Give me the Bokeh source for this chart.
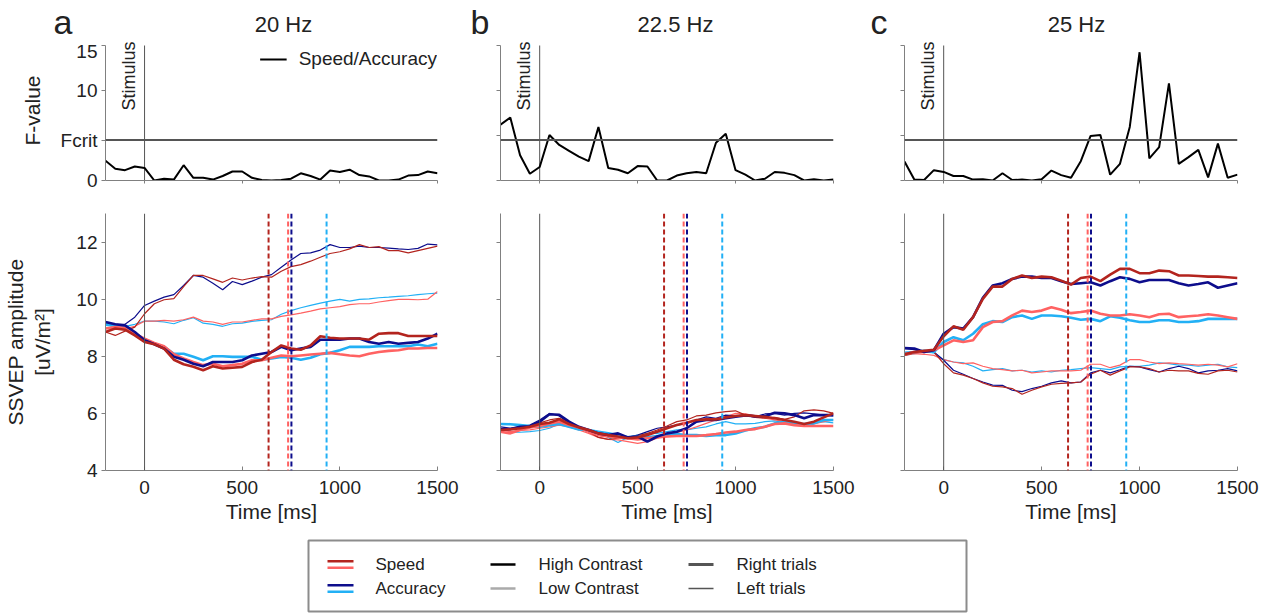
import math
from bokeh.plotting import figure
from bokeh.models import Range1d, Span, Label, FixedTicker, Legend, LegendItem, Spacer
from bokeh.core.properties import value
from bokeh.layouts import column, row
from bokeh.embed import file_html
from bokeh.resources import INLINE

# ---------------- data ----------------
time_ms = [-200, -150, -100, -50, 0, 50, 100, 150, 200, 250, 300, 350, 400, 450, 500,
           550, 600, 650, 700, 750, 800, 850, 900, 950, 1000, 1050, 1100, 1150, 1200,
           1250, 1300, 1350, 1400, 1450, 1500]

panel_letters = ["a", "b", "c"]
panel_titles = ["20 Hz", "22.5 Hz", "25 Hz"]
f_crit = 4.5
stimulus_ms = 0

f_20 = [2.2, 1.3, 1.15, 1.55, 1.4, 0.0, 0.2, 0.1, 1.7, 0.3, 0.3, 0.1, 0.5, 1.0, 1.0, 0.3, 0.05,
        0.0, 0.05, 0.2, 0.8, 0.5, 0.1, 1.1, 0.95, 1.2, 0.6, 0.45, 0.0, 0.0, 0.1, 0.55, 0.6, 1.0, 0.8]
f_22_5 = [6.2, 7.0, 2.8, 0.75, 1.5, 5.05, 3.95, 3.3, 2.65, 2.15, 5.95, 1.4, 1.2, 0.8, 1.6, 1.55, 0.0,
          0.0, 0.55, 0.8, 0.95, 0.8, 4.2, 5.2, 1.15, 0.65, 0.0, 0.2, 0.95, 0.85, 0.6, 0.0, 0.15, 0.0, 0.1]
f_25 = [2.1, 0.1, 0.05, 1.15, 0.95, 0.5, 0.5, 0.1, 0.15, 0.0, 0.8, 0.05, 0.1, 0.0, 0.15, 1.1, 0.6,
        0.3, 2.15, 4.95, 5.05, 0.65, 1.85, 5.95, 14.25, 2.45, 3.7, 10.8, 1.85, 2.6, 3.4, 0.35, 4.1, 0.3, 0.65]

# mean reaction times (dashed lines)
rt_speed_hc = 635
rt_speed_lc = 735
rt_acc_hc = 752
rt_acc_lc = 932

# 20 Hz
a20_speed_hc_right = [8.85, 8.97, 8.93, 8.73, 8.50, 8.42, 8.27, 7.88, 7.72, 7.63, 7.51, 7.65, 7.57, 7.60, 7.63, 7.80, 7.88, 8.15, 8.38, 8.27, 8.23, 8.38, 8.70, 8.65, 8.62, 8.62, 8.62, 8.58, 8.79, 8.81, 8.81, 8.71, 8.71, 8.71, 8.71]
a20_speed_hc_left = [8.85, 8.73, 8.88, 9.02, 9.49, 9.84, 9.98, 10.02, 10.44, 10.83, 10.83, 10.71, 10.59, 10.74, 10.67, 10.74, 10.79, 10.77, 10.98, 11.14, 11.21, 11.33, 11.47, 11.60, 11.66, 11.76, 11.91, 11.81, 11.84, 11.70, 11.70, 11.62, 11.70, 11.78, 11.86]
a20_speed_lc_right = [8.97, 9.02, 9.00, 8.79, 8.62, 8.47, 8.35, 8.07, 7.92, 7.80, 7.69, 7.74, 7.65, 7.69, 7.74, 7.86, 7.86, 7.95, 8.03, 8.00, 8.03, 8.06, 8.09, 8.12, 8.07, 8.03, 8.00, 8.09, 8.15, 8.19, 8.21, 8.27, 8.27, 8.29, 8.29]
a20_speed_lc_left = [8.97, 9.02, 8.97, 9.05, 9.23, 9.23, 9.26, 9.23, 9.28, 9.37, 9.23, 9.20, 9.12, 9.20, 9.20, 9.26, 9.31, 9.31, 9.40, 9.45, 9.51, 9.58, 9.66, 9.70, 9.74, 9.81, 9.84, 9.84, 9.90, 9.95, 9.99, 9.99, 9.98, 10.00, 10.27]
a20_acc_hc_right = [9.20, 9.12, 9.08, 8.85, 8.56, 8.42, 8.27, 7.98, 7.88, 7.74, 7.65, 7.80, 7.80, 7.80, 7.86, 8.03, 8.09, 8.15, 8.33, 8.21, 8.27, 8.33, 8.58, 8.58, 8.58, 8.62, 8.62, 8.50, 8.44, 8.50, 8.44, 8.47, 8.50, 8.62, 8.79]
a20_acc_hc_left = [9.20, 9.12, 9.12, 9.37, 9.78, 9.93, 10.07, 10.16, 10.48, 10.83, 10.77, 10.56, 10.33, 10.62, 10.51, 10.63, 10.77, 10.86, 11.12, 11.37, 11.60, 11.62, 11.72, 11.91, 11.81, 11.81, 11.86, 11.81, 11.81, 11.79, 11.76, 11.74, 11.78, 11.93, 11.90]
a20_acc_lc_right = [9.14, 9.05, 9.05, 8.79, 8.56, 8.44, 8.33, 8.09, 8.09, 7.98, 7.86, 8.00, 8.00, 7.98, 7.98, 7.98, 7.88, 7.92, 7.98, 7.95, 7.88, 7.95, 8.07, 8.12, 8.21, 8.33, 8.33, 8.33, 8.35, 8.35, 8.35, 8.35, 8.41, 8.35, 8.44]
a20_acc_lc_left = [9.08, 9.05, 9.05, 9.12, 9.23, 9.23, 9.20, 9.14, 9.26, 9.35, 9.16, 9.12, 9.05, 9.14, 9.16, 9.22, 9.26, 9.28, 9.47, 9.60, 9.70, 9.78, 9.86, 9.93, 9.99, 9.93, 9.99, 10.01, 10.05, 10.07, 10.10, 10.12, 10.16, 10.19, 10.21]

# 22.5 Hz
a22_speed_hc_right = [5.42, 5.44, 5.48, 5.53, 5.63, 5.67, 5.79, 5.63, 5.51, 5.42, 5.30, 5.24, 5.19, 5.13, 5.16, 5.24, 5.36, 5.48, 5.59, 5.67, 5.77, 5.79, 5.79, 5.86, 5.91, 5.94, 5.91, 5.88, 5.83, 5.77, 5.71, 5.63, 5.71, 5.86, 6.00]
a22_speed_hc_left = [5.40, 5.44, 5.51, 5.56, 5.67, 5.77, 5.83, 5.71, 5.53, 5.36, 5.16, 5.09, 5.13, 5.16, 5.21, 5.30, 5.42, 5.56, 5.71, 5.77, 5.91, 5.94, 6.02, 6.06, 6.09, 5.94, 5.86, 5.83, 5.86, 5.79, 5.88, 6.09, 6.12, 6.09, 6.00]
a22_speed_lc_right = [5.36, 5.30, 5.42, 5.51, 5.56, 5.65, 5.71, 5.59, 5.51, 5.36, 5.24, 5.19, 5.16, 5.13, 5.09, 5.13, 5.16, 5.19, 5.21, 5.21, 5.21, 5.24, 5.28, 5.33, 5.36, 5.42, 5.45, 5.53, 5.63, 5.65, 5.59, 5.56, 5.56, 5.56, 5.56]
a22_speed_lc_left = [5.42, 5.36, 5.40, 5.42, 5.48, 5.53, 5.59, 5.53, 5.42, 5.30, 5.16, 5.09, 5.07, 5.01, 4.95, 5.01, 5.13, 5.24, 5.33, 5.42, 5.53, 5.65, 5.77, 5.88, 6.00, 5.98, 5.91, 5.83, 5.77, 5.71, 5.65, 5.59, 5.63, 5.71, 5.77]
a22_acc_hc_right = [5.44, 5.45, 5.53, 5.55, 5.71, 5.97, 5.95, 5.71, 5.53, 5.42, 5.30, 5.24, 5.30, 5.16, 5.19, 5.01, 5.19, 5.30, 5.36, 5.48, 5.71, 5.77, 5.77, 5.83, 5.88, 5.93, 5.90, 5.90, 6.02, 6.00, 5.94, 5.83, 5.94, 5.94, 5.94]
a22_acc_hc_left = [5.53, 5.48, 5.53, 5.59, 5.77, 6.00, 5.91, 5.67, 5.48, 5.36, 5.24, 5.19, 5.21, 5.16, 5.24, 5.36, 5.48, 5.53, 5.59, 5.65, 5.77, 5.88, 5.83, 5.94, 5.91, 5.91, 5.88, 5.98, 6.00, 5.94, 6.00, 6.02, 5.98, 5.94, 5.91]
a22_acc_lc_right = [5.63, 5.62, 5.59, 5.56, 5.53, 5.59, 5.63, 5.53, 5.44, 5.42, 5.36, 5.30, 5.24, 5.16, 5.19, 5.16, 5.21, 5.24, 5.28, 5.24, 5.24, 5.21, 5.24, 5.24, 5.30, 5.40, 5.48, 5.53, 5.65, 5.71, 5.67, 5.59, 5.65, 5.77, 5.77]
a22_acc_lc_left = [5.33, 5.34, 5.34, 5.36, 5.40, 5.48, 5.63, 5.56, 5.48, 5.42, 5.30, 5.16, 4.98, 5.16, 5.24, 5.30, 5.30, 5.36, 5.42, 5.42, 5.48, 5.53, 5.63, 5.71, 5.63, 5.63, 5.65, 5.71, 5.74, 5.67, 5.63, 5.65, 5.67, 5.71, 5.67]

# 25 Hz
a25_speed_hc_right = [8.07, 8.15, 8.19, 8.23, 8.70, 9.05, 8.93, 9.37, 10.01, 10.44, 10.44, 10.71, 10.83, 10.74, 10.79, 10.77, 10.65, 10.51, 10.74, 10.79, 10.63, 10.86, 11.06, 11.06, 10.91, 10.91, 11.00, 10.98, 10.83, 10.83, 10.81, 10.79, 10.79, 10.77, 10.74]
a25_speed_hc_left = [8.03, 8.12, 8.15, 8.15, 7.74, 7.42, 7.34, 7.22, 7.07, 6.95, 6.93, 6.87, 6.67, 6.81, 6.93, 7.02, 7.05, 7.07, 7.10, 7.37, 7.51, 7.34, 7.49, 7.63, 7.63, 7.57, 7.45, 7.51, 7.49, 7.49, 7.40, 7.37, 7.49, 7.51, 7.45]
a25_speed_lc_right = [8.07, 8.15, 8.15, 8.21, 8.38, 8.56, 8.50, 8.56, 9.02, 9.20, 9.23, 9.43, 9.60, 9.55, 9.60, 9.72, 9.63, 9.51, 9.55, 9.60, 9.49, 9.43, 9.43, 9.47, 9.43, 9.37, 9.47, 9.49, 9.37, 9.40, 9.43, 9.47, 9.43, 9.37, 9.31]
a25_speed_lc_left = [8.03, 8.09, 8.07, 8.03, 7.88, 7.80, 7.74, 7.77, 7.65, 7.57, 7.53, 7.49, 7.51, 7.42, 7.45, 7.49, 7.49, 7.49, 7.51, 7.72, 7.72, 7.60, 7.69, 7.88, 7.88, 7.80, 7.74, 7.77, 7.74, 7.72, 7.69, 7.72, 7.69, 7.63, 7.74]
a25_acc_hc_right = [8.29, 8.27, 8.15, 8.21, 8.79, 9.02, 8.97, 9.37, 10.05, 10.48, 10.56, 10.71, 10.79, 10.79, 10.74, 10.74, 10.63, 10.53, 10.56, 10.59, 10.48, 10.63, 10.77, 10.71, 10.59, 10.67, 10.67, 10.67, 10.56, 10.48, 10.53, 10.59, 10.40, 10.48, 10.56]
a25_acc_hc_left = [8.27, 8.23, 8.15, 8.15, 7.86, 7.51, 7.37, 7.22, 7.10, 6.99, 6.98, 6.81, 6.76, 6.87, 6.95, 7.07, 7.14, 7.07, 7.10, 7.42, 7.51, 7.42, 7.53, 7.65, 7.63, 7.53, 7.45, 7.57, 7.65, 7.57, 7.42, 7.49, 7.51, 7.57, 7.49]
a25_acc_lc_right = [8.12, 8.15, 8.19, 8.15, 8.50, 8.67, 8.56, 8.79, 9.12, 9.23, 9.20, 9.37, 9.43, 9.31, 9.43, 9.43, 9.40, 9.35, 9.28, 9.31, 9.23, 9.40, 9.35, 9.26, 9.20, 9.20, 9.26, 9.26, 9.20, 9.20, 9.23, 9.31, 9.31, 9.31, 9.31]
a25_acc_lc_left = [8.03, 8.09, 8.15, 8.12, 7.88, 7.80, 7.77, 7.65, 7.49, 7.53, 7.57, 7.49, 7.51, 7.45, 7.49, 7.45, 7.51, 7.53, 7.57, 7.60, 7.57, 7.53, 7.63, 7.65, 7.65, 7.69, 7.77, 7.74, 7.69, 7.69, 7.65, 7.69, 7.72, 7.63, 7.60]

legend_col1 = ["Speed", "Accuracy"]
legend_col2 = ["High Contrast", "Low Contrast"]
legend_col3 = ["Right trials", "Left trials"]

# ---------------- style ----------------
FONT = "Liberation Sans"
C_SPEED_HC = "#b3241e"
C_SPEED_LC = "#ff6262"
C_ACC_HC = "#0d0d8c"
C_ACC_LC = "#22b0f5"
AX = "#808080"
TXT = "#222222"
THICK = 2.6
THIN = 1.2

# (left border, frame width, right border) per column
cols = [(105, 332, 30), (33, 333, 35), (36, 333, 23)]
TOTAL_W = sum(a + b + c for a, b, c in cols)
HDR_H = 40


def style_axes(p):
    p.xgrid.visible = False
    p.ygrid.visible = False
    p.outline_line_color = None
    for ax in p.axis:
        ax.axis_line_color = AX
        ax.major_tick_line_color = AX
        ax.minor_tick_line_color = None
        ax.major_label_text_font = FONT
        ax.major_label_text_font_size = "19px"
        ax.major_label_text_color = TXT
        ax.axis_label_text_font = FONT
        ax.axis_label_text_font_style = "normal"
        ax.axis_label_text_font_size = "21px"
        ax.axis_label_text_color = TXT


# ---------------- header (panel letters and titles) ----------------
hdr = figure(frame_width=TOTAL_W, frame_height=HDR_H, x_range=Range1d(0, TOTAL_W),
             y_range=Range1d(HDR_H, 0), min_border=0, output_backend="svg", toolbar_location=None)
hdr.axis.visible = False
hdr.xgrid.visible = False
hdr.ygrid.visible = False
hdr.outline_line_color = None
hdr.text(x=[53, 470, 870], y=[21, 21, 21], text=panel_letters, text_font=value(FONT),
         text_font_size="34px", text_baseline="middle", text_align="left", text_color=TXT)
hdr.text(x=[283, 675, 1076], y=[24, 24, 24], text=panel_titles, text_font=value(FONT),
         text_font_size="22px", text_baseline="middle", text_align="center", text_color=TXT)

F_TOP = 15 + 5 / 9.0  # a little room above the axis for the Stimulus label


def make_top(i, fvals):
    bl, fw, br = cols[i]
    p = figure(frame_width=fw, frame_height=140,
               x_range=Range1d(-200, 1500), y_range=Range1d(0, F_TOP),
               min_border_left=bl, min_border_right=br, min_border_top=0, min_border_bottom=20,
               output_backend="svg", toolbar_location=None)
    style_axes(p)
    p.xaxis.ticker = FixedTicker(ticks=[0, 500, 1000, 1500])
    p.xaxis.major_label_overrides = {0: "", 500: "", 1000: "", 1500: ""}
    p.xaxis.major_tick_in = 0
    p.xaxis.major_tick_out = 3
    p.yaxis.bounds = (0, 15)
    p.yaxis.major_tick_in = 0
    p.yaxis.major_tick_out = 4
    p.yaxis.major_label_standoff = 4
    if i == 0:
        p.yaxis.ticker = FixedTicker(ticks=[0, f_crit, 10, 15])
        p.yaxis.major_label_overrides = {f_crit: "Fcrit"}
        p.yaxis.axis_label = "F-value"
        p.yaxis.axis_label_standoff = 14
    else:
        p.yaxis.ticker = FixedTicker(ticks=[0, 5, 10, 15])
        p.yaxis.major_label_overrides = {0: "", 5: "", 10: "", 15: ""}
    p.segment(x0=[stimulus_ms], y0=[0], x1=[stimulus_ms], y1=[15], line_color="#555555", line_width=1)
    p.add_layout(Span(location=f_crit, dimension="width", line_color="#555555", line_width=2))
    r = p.line(time_ms, fvals, line_color="black", line_width=2)
    if i == 0:
        leg = Legend(items=[LegendItem(label="Speed/Accuracy", renderers=[r])],
                     location="top_right", border_line_color=None, background_fill_alpha=0,
                     label_text_font=FONT, label_text_font_size="19px", label_text_color=TXT,
                     glyph_width=27, glyph_height=38, label_height=38,
                     label_standoff=12, padding=0, margin=0)
        p.add_layout(leg)
    p.add_layout(Label(x=stimulus_ms, y=F_TOP, text="Stimulus", angle=math.pi / 2, x_offset=-16, y_offset=-1,
                       text_align="right", text_baseline="alphabetic",
                       text_font=FONT, text_font_size="18px", text_color=TXT))
    return p


def make_bottom(i, series):
    bl, fw, br = cols[i]
    p = figure(frame_width=fw, frame_height=257,
               x_range=Range1d(-200, 1500), y_range=Range1d(4, 13),
               min_border_left=bl, min_border_right=br, min_border_top=13, min_border_bottom=60,
               output_backend="svg", toolbar_location=None)
    style_axes(p)
    p.xaxis.ticker = FixedTicker(ticks=[0, 500, 1000, 1500])
    p.xaxis.major_tick_in = 4
    p.xaxis.major_tick_out = 0
    p.xaxis.major_label_standoff = 10
    p.xaxis.axis_label = "Time [ms]"
    p.xaxis.axis_label_standoff = 3
    p.yaxis.ticker = FixedTicker(ticks=[4, 6, 8, 10, 12])
    p.yaxis.major_tick_in = 0
    p.yaxis.major_tick_out = 4
    p.yaxis.major_label_standoff = 4
    if i == 0:
        p.yaxis.axis_label = "SSVEP amplitude\n[uV/m\u00b2]"
        p.yaxis.axis_label_standoff = 19
    else:
        p.yaxis.major_label_overrides = {4: "", 6: "", 8: "", 10: "", 12: ""}
    p.add_layout(Span(location=stimulus_ms, dimension="height", line_color="#555555", line_width=1))
    for rt, c in [(rt_speed_hc, C_SPEED_HC), (rt_speed_lc, C_SPEED_LC),
                  (rt_acc_hc, C_ACC_HC), (rt_acc_lc, C_ACC_LC)]:
        p.add_layout(Span(location=rt, dimension="height", line_color=c, line_width=2,
                          line_dash="5 3"))
    (s_hc_r, s_hc_l, s_lc_r, s_lc_l, a_hc_r, a_hc_l, a_lc_r, a_lc_l) = series
    for y, c in [(a_lc_l, C_ACC_LC), (s_lc_l, C_SPEED_LC), (a_hc_l, C_ACC_HC), (s_hc_l, C_SPEED_HC)]:
        p.line(time_ms, y, line_color=c, line_width=THIN)
    for y, c in [(a_lc_r, C_ACC_LC), (s_lc_r, C_SPEED_LC), (a_hc_r, C_ACC_HC), (s_hc_r, C_SPEED_HC)]:
        p.line(time_ms, y, line_color=c, line_width=THICK)
    return p


tops = [make_top(0, f_20), make_top(1, f_22_5), make_top(2, f_25)]
bottoms = [
    make_bottom(0, (a20_speed_hc_right, a20_speed_hc_left, a20_speed_lc_right, a20_speed_lc_left,
                    a20_acc_hc_right, a20_acc_hc_left, a20_acc_lc_right, a20_acc_lc_left)),
    make_bottom(1, (a22_speed_hc_right, a22_speed_hc_left, a22_speed_lc_right, a22_speed_lc_left,
                    a22_acc_hc_right, a22_acc_hc_left, a22_acc_lc_right, a22_acc_lc_left)),
    make_bottom(2, (a25_speed_hc_right, a25_speed_hc_left, a25_speed_lc_right, a25_speed_lc_left,
                    a25_acc_hc_right, a25_acc_hc_left, a25_acc_lc_right, a25_acc_lc_left)),
]

# ---------------- bottom legend box ----------------
LG_W, LG_H = 658, 71
lg = figure(frame_width=LG_W, frame_height=LG_H, x_range=Range1d(0, LG_W), y_range=Range1d(LG_H, 0),
            min_border_left=2, min_border_right=2, min_border_top=2, min_border_bottom=2,
            output_backend="svg", toolbar_location=None)
lg.axis.visible = False
lg.xgrid.visible = False
lg.ygrid.visible = False
lg.outline_line_color = "#8c8c8c"
lg.outline_line_width = 2
rows_y = [24, 48]
# column 1: colour pairs
lg.segment(x0=[19, 19], x1=[45, 45], y0=[rows_y[0] - 3.3, rows_y[0] + 3.3],
           y1=[rows_y[0] - 3.3, rows_y[0] + 3.3], line_color=[C_SPEED_HC, C_SPEED_LC], line_width=2.5)
lg.segment(x0=[19, 19], x1=[45, 45], y0=[rows_y[1] - 3.3, rows_y[1] + 3.3],
           y1=[rows_y[1] - 3.3, rows_y[1] + 3.3], line_color=[C_ACC_HC, C_ACC_LC], line_width=2.5)
lg.text(x=[67, 67], y=rows_y, text=legend_col1, text_font=value(FONT), text_font_size="17px",
        text_baseline="middle", text_color=TXT)
# column 2: contrast
lg.segment(x0=[182, 182], x1=[207, 207], y0=rows_y, y1=rows_y,
           line_color=["#000000", "#aaaaaa"], line_width=2.5)
lg.text(x=[230, 230], y=rows_y, text=legend_col2, text_font=value(FONT), text_font_size="17px",
        text_baseline="middle", text_color=TXT)
# column 3: side
lg.segment(x0=[380, 380], x1=[405, 405], y0=rows_y, y1=rows_y,
           line_color=["#555555", "#555555"], line_width=[3, 1.3])
lg.text(x=[428, 428], y=rows_y, text=legend_col3, text_font=value(FONT), text_font_size="17px",
        text_baseline="middle", text_color=TXT)

layout = column(
    hdr,
    row(*tops),
    row(*bottoms),
    Spacer(height=8),
    row(Spacer(width=306, height=LG_H + 4), lg),
)

open("out.html", "w").write(file_html(layout, INLINE))
